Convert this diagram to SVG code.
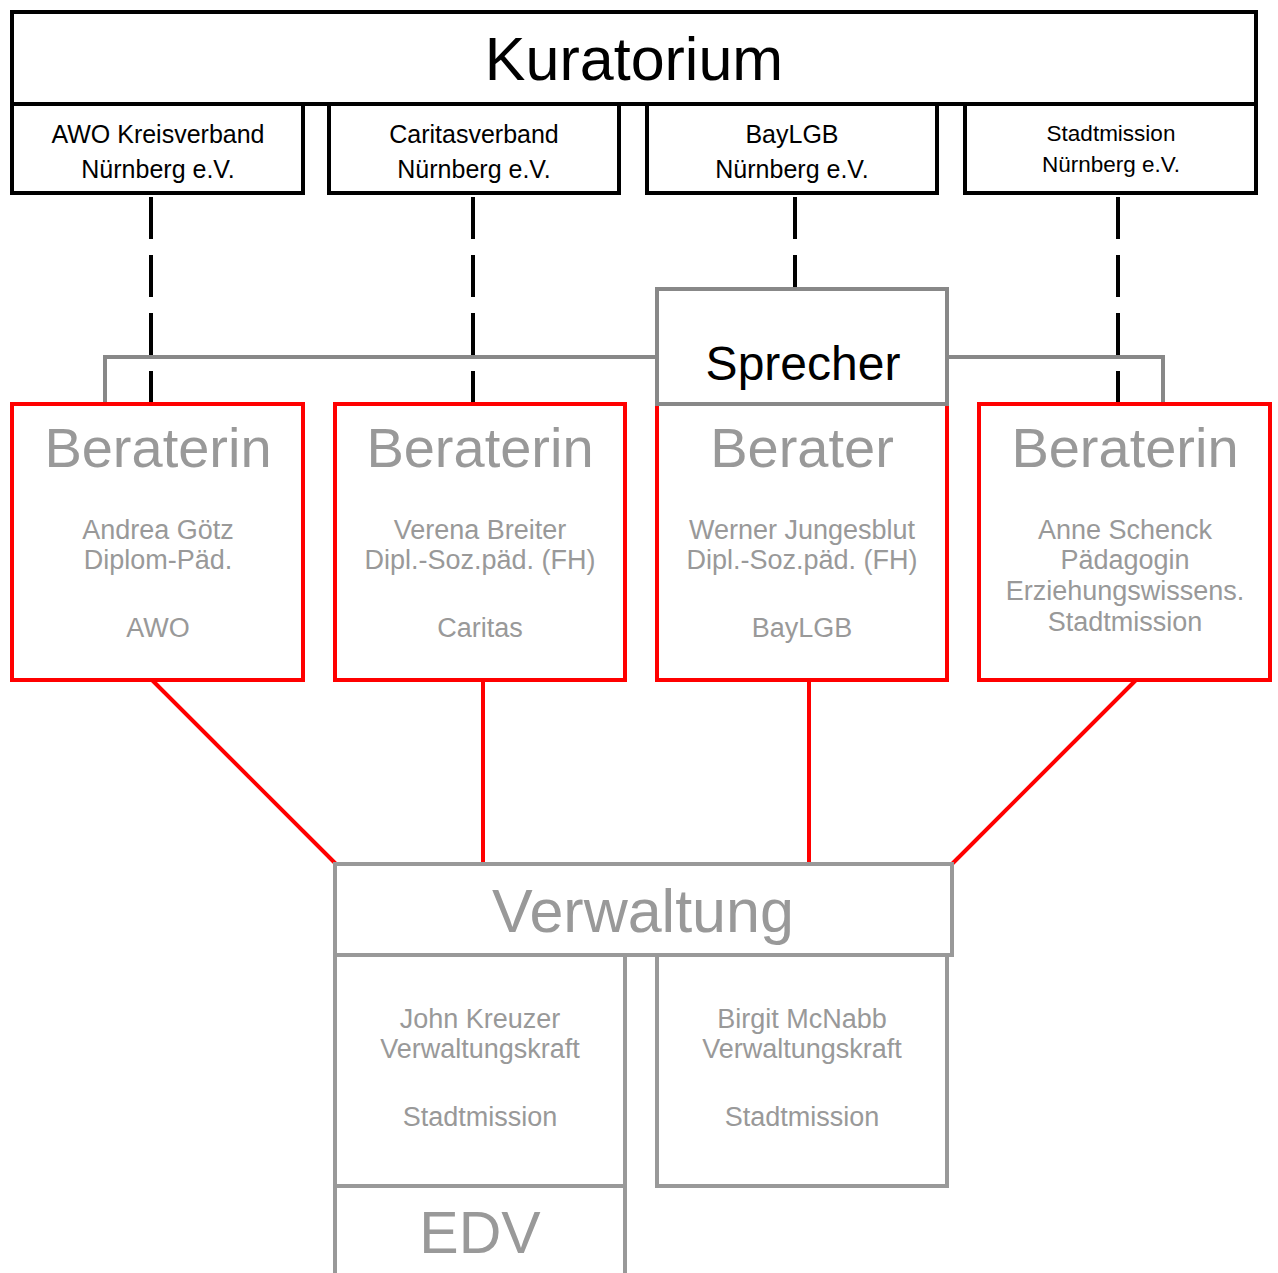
<svg xmlns="http://www.w3.org/2000/svg" width="1278" height="1273" viewBox="0 0 1278 1273">
<style>
text{font-family:"Liberation Sans",Arial,sans-serif;text-anchor:middle}
.blk{fill:#fff;stroke:#000;stroke-width:4}
.red{fill:#fff;stroke:#ff0000;stroke-width:4}
.gry{fill:#fff;stroke:#999;stroke-width:4}
.spr{fill:#fff;stroke:#888;stroke-width:4}
.org{font-size:25px;fill:#000}
.org2{font-size:22.5px;fill:#000}
.title{font-size:56px;fill:#999}
.sub{font-size:27px;fill:#999}
.dash{stroke:#000;stroke-width:4;stroke-dasharray:42 16;fill:none}
.gline{stroke:#888;stroke-width:4;fill:none}
.rline{stroke:#ff0000;stroke-width:4;fill:none}
</style>
<rect width="1278" height="1273" fill="#fff"/>
<g id="connectors">
<line class="dash" x1="151" y1="197" x2="151" y2="403"/>
<line class="dash" x1="473" y1="197" x2="473" y2="403"/>
<line class="dash" x1="795" y1="197" x2="795" y2="289"/>
<line class="dash" x1="1118" y1="197" x2="1118" y2="403"/>
<polyline class="gline" points="105,403 105,357 657,357"/>
<polyline class="gline" points="947,357 1163,357 1163,403"/>
<line class="rline" x1="152" y1="680" x2="336" y2="864"/>
<line class="rline" x1="483" y1="680" x2="483" y2="864"/>
<line class="rline" x1="809" y1="680" x2="809" y2="864"/>
<line class="rline" x1="1136" y1="680" x2="952" y2="864"/>
</g>
<g id="kuratorium">
<rect class="blk" x="12" y="12" width="1244" height="92"/>
<text x="634" y="80" style="font-size:61px;fill:#000">Kuratorium</text>
</g>
<g id="awo">
<rect class="blk" x="12" y="104" width="291" height="89"/>
<text class="org" x="158" y="143">AWO Kreisverband</text>
<text class="org" x="158" y="178">Nürnberg e.V.</text>
</g>
<g id="caritas">
<rect class="blk" x="329" y="104" width="290" height="89"/>
<text class="org" x="474" y="143">Caritasverband</text>
<text class="org" x="474" y="178">Nürnberg e.V.</text>
</g>
<g id="baylgb">
<rect class="blk" x="647" y="104" width="290" height="89"/>
<text class="org" x="792" y="143">BayLGB</text>
<text class="org" x="792" y="178">Nürnberg e.V.</text>
</g>
<g id="stadtmission">
<rect class="blk" x="965" y="104" width="291" height="89"/>
<text class="org2" x="1111" y="141">Stadtmission</text>
<text class="org2" x="1111" y="172">Nürnberg e.V.</text>
</g>
<g id="beraterin1">
<rect class="red" x="12" y="404" width="291" height="276"/>
<text class="title" x="158" y="467">Beraterin</text>
<text class="sub" x="158" y="539">Andrea Götz</text>
<text class="sub" x="158" y="569">Diplom-Päd.</text>
<text class="sub" x="158" y="637">AWO</text>
</g>
<g id="beraterin2">
<rect class="red" x="335" y="404" width="290" height="276"/>
<text class="title" x="480" y="467">Beraterin</text>
<text class="sub" x="480" y="539">Verena Breiter</text>
<text class="sub" x="480" y="569">Dipl.-Soz.päd. (FH)</text>
<text class="sub" x="480" y="637">Caritas</text>
</g>
<g id="berater3">
<rect class="red" x="657" y="404" width="290" height="276"/>
<text class="title" x="802" y="467">Berater</text>
<text class="sub" x="802" y="539">Werner Jungesblut</text>
<text class="sub" x="802" y="569">Dipl.-Soz.päd. (FH)</text>
<text class="sub" x="802" y="637">BayLGB</text>
</g>
<g id="beraterin4">
<rect class="red" x="979" y="404" width="291" height="276"/>
<text class="title" x="1125" y="467">Beraterin</text>
<text class="sub" x="1125" y="539">Anne Schenck</text>
<text class="sub" x="1125" y="569">Pädagogin</text>
<text class="sub" x="1125" y="600">Erziehungswissens.</text>
<text class="sub" x="1125" y="631">Stadtmission</text>
</g>
<g id="sprecher">
<rect class="spr" x="657" y="289" width="290" height="115"/>
<text x="803" y="380" style="font-size:48px;fill:#000">Sprecher</text>
</g>
<g id="verwaltung">
<rect class="gry" x="335" y="864" width="617" height="91"/>
<text x="643" y="932" style="font-size:61px;fill:#999">Verwaltung</text>
</g>
<g id="kreuzer">
<rect class="gry" x="335" y="955" width="290" height="231"/>
<text class="sub" x="480" y="1028">John Kreuzer</text>
<text class="sub" x="480" y="1058">Verwaltungskraft</text>
<text class="sub" x="480" y="1126">Stadtmission</text>
</g>
<g id="mcnabb">
<rect class="gry" x="657" y="955" width="290" height="231"/>
<text class="sub" x="802" y="1028">Birgit McNabb</text>
<text class="sub" x="802" y="1058">Verwaltungskraft</text>
<text class="sub" x="802" y="1126">Stadtmission</text>
</g>
<g id="edv">
<polyline class="gry" points="335,1275 335,1186 625,1186 625,1275" fill="none"/>
<text x="480" y="1253" style="font-size:59px;fill:#999">EDV</text>
</g>
</svg>
